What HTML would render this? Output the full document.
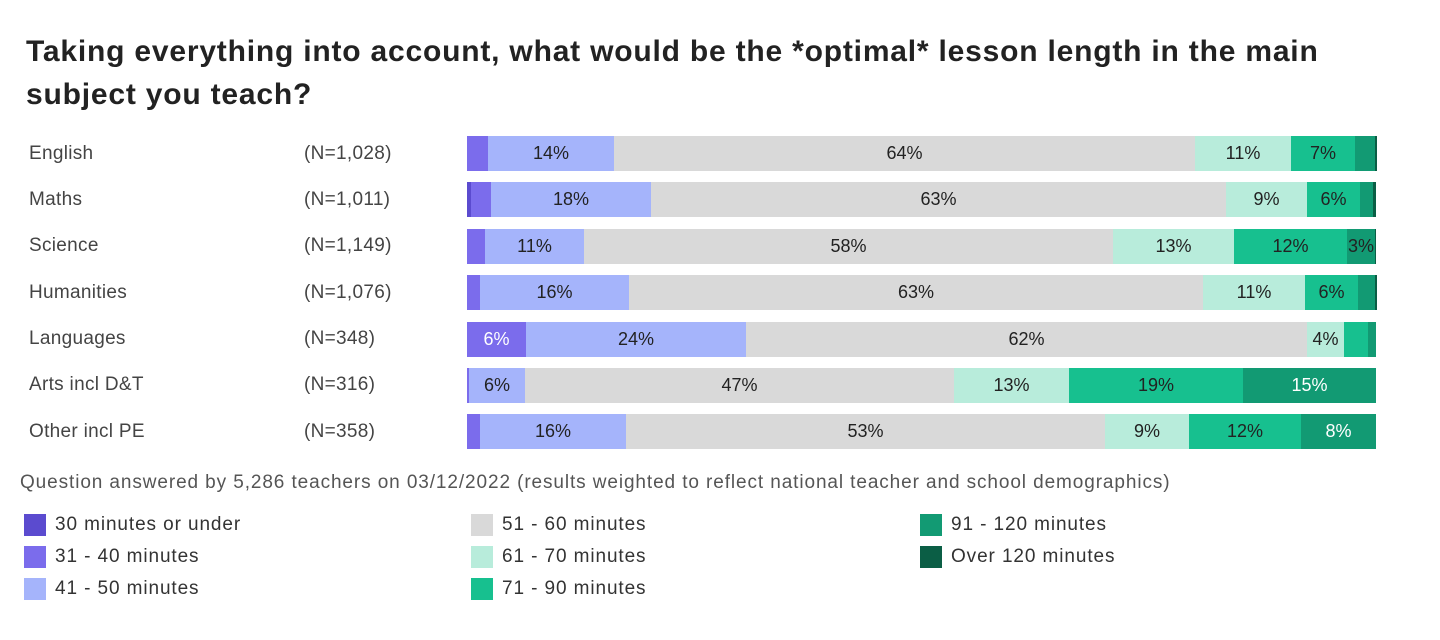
<!DOCTYPE html>
<html><head><style>
body{margin:0;width:1440px;height:640px;background:#fff;font-family:"Liberation Sans",sans-serif;position:relative;overflow:hidden}
.t{position:absolute;left:26px;top:30px;font-size:30px;font-weight:bold;color:#222;line-height:43px;letter-spacing:0.8px;white-space:nowrap}
.lab{position:absolute;font-size:19px;color:#444;letter-spacing:0.3px}
.bar{position:absolute;left:467px;height:35px;display:flex}
.bar div{height:35px;display:flex;align-items:center;justify-content:center;font-size:18px;color:#222;white-space:nowrap;overflow:visible}
.a{background:#5b4bcf}.b{background:#7b6cec}.c{background:#a5b4fb}.d{background:#d9d9d9}.e{background:#b8ecdb}.f{background:#17c08f}.g{background:#129a73}.h{background:#0b5e45}
.w{color:#fff!important}
.foot{position:absolute;left:20px;top:472px;font-size:19px;color:#555;letter-spacing:0.9px;white-space:nowrap}
.lg{position:absolute;font-size:19px;color:#333;display:flex;align-items:center;letter-spacing:0.9px}
.lg i{display:inline-block;width:22px;height:22px;margin-right:9px}
</style></head><body>
<div class="t">Taking everything into account, what would be the *optimal* lesson length in the main<br>subject you teach?</div>

<div class="lab" style="left:29px;top:143px">English</div><div class="lab" style="left:304px;top:143px">(N=1,028)</div>
<div class="lab" style="left:29px;top:189px">Maths</div><div class="lab" style="left:304px;top:189px">(N=1,011)</div>
<div class="lab" style="left:29px;top:235px">Science</div><div class="lab" style="left:304px;top:235px">(N=1,149)</div>
<div class="lab" style="left:29px;top:282px">Humanities</div><div class="lab" style="left:304px;top:282px">(N=1,076)</div>
<div class="lab" style="left:29px;top:328px">Languages</div><div class="lab" style="left:304px;top:328px">(N=348)</div>
<div class="lab" style="left:29px;top:374px">Arts incl D&amp;T</div><div class="lab" style="left:304px;top:374px">(N=316)</div>
<div class="lab" style="left:29px;top:421px">Other incl PE</div><div class="lab" style="left:304px;top:421px">(N=358)</div>

<div class="bar" style="top:136px"><div class="b" style="width:21px"></div><div class="c" style="width:126px">14%</div><div class="d" style="width:581px">64%</div><div class="e" style="width:96px">11%</div><div class="f" style="width:64px">7%</div><div class="g" style="width:20px"></div><div class="h" style="width:2px"></div></div>
<div class="bar" style="top:182px"><div class="a" style="width:4px"></div><div class="b" style="width:20px"></div><div class="c" style="width:160px">18%</div><div class="d" style="width:575px">63%</div><div class="e" style="width:81px">9%</div><div class="f" style="width:53px">6%</div><div class="g" style="width:13px"></div><div class="h" style="width:3px"></div></div>
<div class="bar" style="top:229px"><div class="b" style="width:18px"></div><div class="c" style="width:99px">11%</div><div class="d" style="width:529px">58%</div><div class="e" style="width:121px">13%</div><div class="f" style="width:113px">12%</div><div class="g" style="width:28px">3%</div><div class="h" style="width:1px"></div></div>
<div class="bar" style="top:275px"><div class="b" style="width:13px"></div><div class="c" style="width:149px">16%</div><div class="d" style="width:574px">63%</div><div class="e" style="width:102px">11%</div><div class="f" style="width:53px">6%</div><div class="g" style="width:17px"></div><div class="h" style="width:2px"></div></div>
<div class="bar" style="top:322px"><div class="b w" style="width:59px">6%</div><div class="c" style="width:220px">24%</div><div class="d" style="width:561px">62%</div><div class="e" style="width:37px">4%</div><div class="f" style="width:24px"></div><div class="g" style="width:8px"></div></div>
<div class="bar" style="top:368px"><div class="b" style="width:2px"></div><div class="c" style="width:56px">6%</div><div class="d" style="width:429px">47%</div><div class="e" style="width:115px">13%</div><div class="f" style="width:174px">19%</div><div class="g w" style="width:133px">15%</div></div>
<div class="bar" style="top:414px"><div class="b" style="width:13px"></div><div class="c" style="width:146px">16%</div><div class="d" style="width:479px">53%</div><div class="e" style="width:84px">9%</div><div class="f" style="width:112px">12%</div><div class="g w" style="width:75px">8%</div></div>

<div class="foot">Question answered by 5,286 teachers on 03/12/2022 (results weighted to reflect national teacher and school demographics)</div>

<div class="lg" style="left:24px;top:514px"><i class="a"></i>30 minutes or under</div>
<div class="lg" style="left:24px;top:546px"><i class="b"></i>31 - 40 minutes</div>
<div class="lg" style="left:24px;top:578px"><i class="c"></i>41 - 50 minutes</div>
<div class="lg" style="left:471px;top:514px"><i class="d"></i>51 - 60 minutes</div>
<div class="lg" style="left:471px;top:546px"><i class="e"></i>61 - 70 minutes</div>
<div class="lg" style="left:471px;top:578px"><i class="f"></i>71 - 90 minutes</div>
<div class="lg" style="left:920px;top:514px"><i class="g"></i>91 - 120 minutes</div>
<div class="lg" style="left:920px;top:546px"><i class="h"></i>Over 120 minutes</div>
</body></html>
